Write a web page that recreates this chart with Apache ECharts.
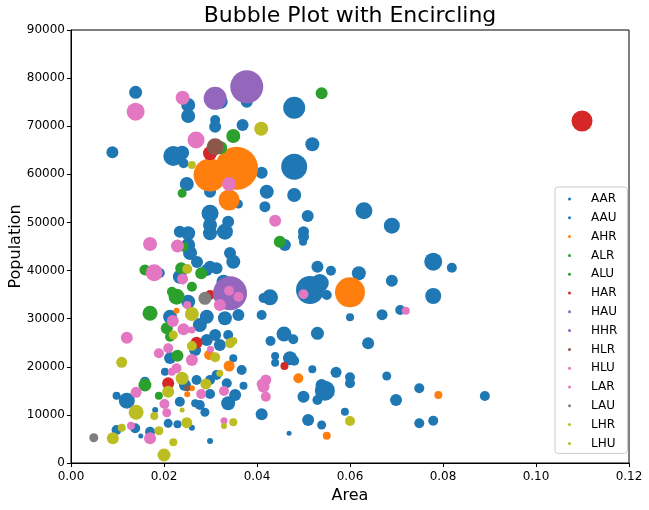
<!DOCTYPE html>
<html><head><meta charset="utf-8">
<script src="https://cdn.jsdelivr.net/npm/echarts@6/dist/echarts.min.js"></script>
<style>html,body{margin:0;padding:0;background:#fff}#c{width:649px;height:510px}</style>
</head><body><div id="c"></div>
<script>
// Each point: [area, population, dot size]
const categories = ['AAR','AAU','AHR','ALR','ALU','HAR','HAU','HHR','HLR','HLU','LAR','LAU','LHR','LHU'];
const colors = ['#1f77b4','#1f77b4','#ff7f0e','#2ca02c','#2ca02c','#d62728','#9467bd','#9467bd','#8c564b','#e377c2','#e377c2','#7f7f7f','#bcbd22','#bcbd22'];
const xTicks = [0,0.02,0.04,0.06,0.08,0.10,0.12];
const yTicks = [0,10000,20000,30000,40000,50000,60000,70000,80000,90000];

const AAR = [
[0.0139,77050,169],[0.0252,74410,196],[0.0252,72120,196],[0.0322,75100,196],[0.0378,75100,144],
[0.0310,71290,100],[0.0310,69900,144],[0.0369,70250,144],[0.0089,64580,144],[0.0239,64500,196],
[0.0242,62290,100],[0.0410,60340,144],[0.0249,57990,196],[0.0299,56390,144],[0.0360,53830,81],
[0.0421,56390,196],[0.0417,53270,121],[0.0299,51900,289],[0.0299,49470,196],[0.0338,50150,144],
[0.0331,48080,256],[0.0299,47740,196],[0.0234,48080,144],[0.0252,47740,196],[0.0252,45310,196],
[0.0519,66240,196],[0.0480,55700,196],[0.0509,51340,144],[0.0500,48080,121],[0.0500,47040,121],
[0.0630,52440,289],[0.0690,49320,256],[0.0460,45310,144],[0.0499,46000,64],[0.0819,40590,100],
[0.0530,40800,144],[0.0559,39970,100],[0.0619,39430,196],[0.0690,37890,144],[0.0535,37410,324],
[0.0550,34920,100],[0.0428,34440,256],[0.0414,34300,100],[0.0779,34710,256],[0.0669,30820,121],
[0.0708,31800,100],[0.0410,30760,100],[0.0600,30280,64],[0.0458,26810,225],[0.0478,25710,100],
[0.0429,25360,100],[0.0530,26960,169],[0.0639,24880,144],[0.0439,22240,64],[0.0439,20850,64],
[0.0471,21760,196],[0.0480,21260,100],[0.0519,19480,64],[0.0570,18850,121],[0.0600,17810,100],
[0.0600,16570,100],[0.0679,18080,81],[0.0539,16210,144],[0.0500,13780,144],[0.0530,13090,100],
[0.0699,13090,144],[0.0749,15530,100],[0.0890,13930,100],[0.0410,10120,144],[0.0510,8940,144],
[0.0539,7900,81],[0.0589,10660,64],[0.0749,8250,100],[0.0779,8790,100],[0.0469,6170,25],
[0.0256,43650,196],[0.0342,43650,144],[0.0349,41840,196],[0.0271,41780,144],[0.0299,40800,144],
[0.0313,40470,144],[0.0292,40120,144],[0.0191,39490,100],[0.0234,38720,196],[0.0328,37680,196],
[0.0252,33530,196],[0.0213,30410,196],[0.0292,30410,196],[0.0331,30080,196],[0.0360,30760,144],
[0.0277,28690,196],[0.0310,26600,144],[0.0267,23490,144],[0.0320,24530,144],[0.0245,16210,144],
[0.0353,14130,144],[0.0277,12060,100],[0.0292,25570,144],[0.0338,26600,100],[0.0213,21800,144],
[0.0349,21760,64],[0.0367,19330,100],[0.0202,18980,64],[0.0270,17250,100],[0.0299,17250,100],
[0.0313,18290,100],[0.0159,16900,100],[0.0335,16570,100],[0.0371,16070,64],[0.0098,13990,64],
[0.0120,12950,256],[0.0234,12740,100],[0.0267,12410,64],[0.0299,14340,100],[0.0338,12410,196],
[0.0181,11020,36],[0.0288,10540,81],[0.0209,8250,81],[0.0229,8040,64],[0.0260,7340,36],
[0.0098,6860,100],[0.0138,7210,100],[0.0170,6510,100],[0.0150,5610,25],[0.0299,4570,36]
];
const AAU = [
[0.0220,63810,400],[0.0480,73850,484],[0.0480,61590,676],[0.0514,35960,784],[0.0546,15030,400],
[0.0779,41840,324]
];
const AHR = [
[0.0299,59860,1089],[0.0356,61250,1849],[0.0340,54660,441],[0.0600,35480,900],[0.0489,17600,100],
[0.0790,14130,64],[0.0550,5670,64],[0.0227,31660,36],[0.0297,22450,100],[0.0340,20160,121],
[0.0250,14280,36],[0.0260,15530,36]
];
const ALR = [
[0.0539,76840,144],[0.0349,67970,196],[0.0322,65540,169],[0.0239,56060,81],[0.0242,44960,100],
[0.0449,46000,144],[0.0159,40120,121],[0.0280,39430,144]
];
const ALU = [
[0.0237,40470,144],[0.0260,36640,100],[0.0227,34570,256],[0.0217,35600,100],[0.0170,31120,225],
[0.0206,28000,144],[0.0213,26250,100],[0.0229,22300,144],[0.0159,16210,169],[0.0189,13990,64]
];
const HAR = [
[0.1099,71080,441],[0.0299,64370,196],[0.0270,25000,144],[0.0209,16570,144],[0.0459,20160,64],
[0.0299,34920,100]
];
const HAU = [[0.0310,75800,529]];
const HHR = [[0.0378,78210,1089],[0.0342,35270,1156]];
const HLR = [[0.0310,65740,289],[0.0250,15530,36]];
const HLU = [
[0.0139,73020,324],[0.0240,75930,196],[0.0269,67140,289],[0.0340,57990,196],[0.0439,50360,144],
[0.0170,45520,196],[0.0229,45100,169],[0.0179,39550,289],[0.0240,38250,121],[0.0340,35810,100],
[0.0360,34570,100],[0.0320,32840,144],[0.0500,35060,100],[0.0720,31660,64]
];
const LAR = [
[0.0219,29510,144],[0.0242,27790,144],[0.0250,32840,64],[0.0260,27650,49],[0.0120,26040,144],
[0.0209,23840,100],[0.0189,22800,100],[0.0300,23630,49],[0.0260,21410,144],[0.0227,19680,100],
[0.0217,18980,64],[0.0414,15860,144],[0.0419,17250,121],[0.0410,16420,100],[0.0419,13780,100],
[0.0329,14970,100],[0.0280,14340,100],[0.0140,14700,121],[0.0201,12260,100],[0.0206,10450,81],
[0.0329,8790,49],[0.0129,7750,64],[0.0170,5130,144]
];
const LAU = [[0.0049,5260,81],[0.0288,34230,169]];
const LHR = [
[0.0409,69480,196],[0.0260,61940,64],[0.0250,40330,100],[0.0260,30970,196],[0.0220,26600,81],
[0.0342,24880,100],[0.0349,25360,64],[0.0260,24320,100],[0.0310,21970,100],[0.0109,20930,121],
[0.0320,18640,49]
];
const LHU = [
[0.0239,17600,169],[0.0290,16420,121],[0.0209,14820,144],[0.0140,10540,225],[0.0239,11020,25],
[0.0179,9770,64],[0.0249,8380,121],[0.0329,7690,36],[0.0349,8460,64],[0.0109,7340,64],
[0.0189,6710,81],[0.0090,5130,144],[0.0220,4300,64],[0.0200,1660,169],[0.0600,8730,100]
];
const seriesData = {AAR,AAU,AHR,ALR,ALU,HAR,HAU,HHR,HLR,HLU,LAR,LAU,LHR,LHU};

const FONT = 'DejaVu Sans';
const chart = echarts.init(document.getElementById('c'), null, {renderer:'canvas'});
chart.setOption({
  animation:false,
  backgroundColor:'#fff',
  textStyle:{fontFamily:FONT},
  graphic:[{type:'text', x:350, y:16, style:{text:'Bubble Plot with Encircling', font:'22px "DejaVu Sans"', fill:'#000', align:'center', verticalAlign:'middle', textAlign:'center', textVerticalAlign:'middle'}}],
  grid:{left:71, right:20, top:30, bottom:47, show:true, borderColor:'#000', borderWidth:1, backgroundColor:'transparent', containLabel:false, outerBoundsMode:'none'},
  xAxis:{type:'value', min:xTicks[0], max:xTicks[xTicks.length-1], interval:0.02,
    name:'Area', nameLocation:'middle', nameGap:25, nameMoveOverlap:false, nameTextStyle:{fontSize:16, color:'#000', fontFamily:FONT},
    axisLine:{show:true, lineStyle:{color:'#000', width:1}}, axisTick:{show:true, length:4, lineStyle:{color:'#000'}},
    axisLabel:{color:'#000', fontSize:12, fontFamily:FONT, margin:8, formatter:v=>v.toFixed(2)}, splitLine:{show:false}},
  yAxis:{type:'value', min:yTicks[0], max:yTicks[yTicks.length-1], interval:10000,
    name:'Population', nameLocation:'middle', nameGap:47, nameMoveOverlap:false, nameTextStyle:{fontSize:16, color:'#000', fontFamily:FONT},
    axisLine:{show:true, lineStyle:{color:'#000', width:1}}, axisTick:{show:true, length:4, lineStyle:{color:'#000'}},
    axisLabel:{color:'#000', fontSize:12, fontFamily:FONT, margin:6, formatter:v=>String(v)}, splitLine:{show:false}},
  legend:{orient:'vertical', left:555, top:187, padding:[5,10,3,13], itemGap:4.8, itemWidth:3, itemHeight:3, icon:'circle',
    borderColor:'#ccc', borderWidth:1, borderRadius:3, backgroundColor:'rgba(255,255,255,0.8)',
    textStyle:{fontSize:12, color:'#000', fontFamily:FONT, lineHeight:14, padding:[0,0,0,15]},
    data:categories},
  series: categories.map((c,i)=>({
    name:c, type:'scatter', data:seriesData[c], symbolSize:v=>Math.sqrt(v[2]),
    itemStyle:{color:colors[i], opacity:1}, emphasis:{disabled:true}
  }))
});
</script></body></html>
